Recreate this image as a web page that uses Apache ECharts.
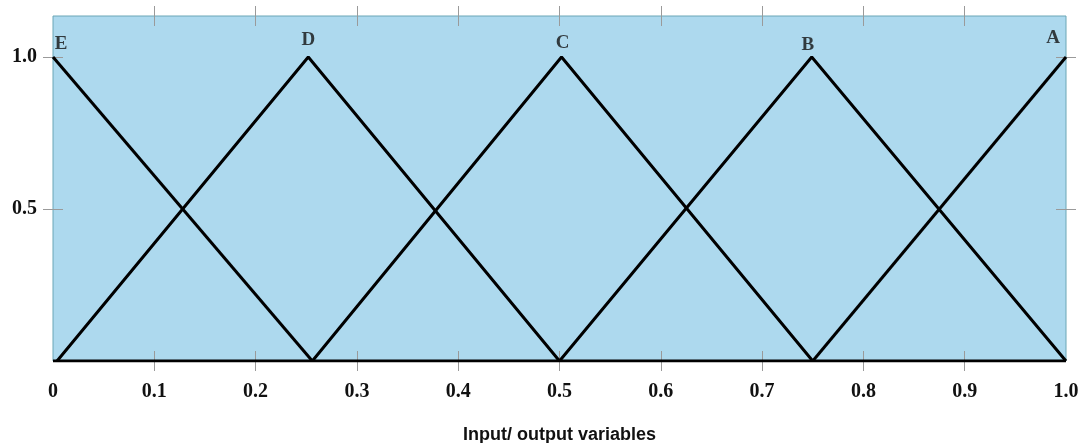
<!DOCTYPE html>
<html>
<head>
<meta charset="utf-8">
<script src="https://cdn.jsdelivr.net/npm/echarts@6/dist/echarts.min.js"></script>
<style>html,body{margin:0;padding:0;background:#fff;}#c{width:1083px;height:443px;}</style>
</head>
<body>
<div id="c"></div>
<script>
// Membership functions (x, membership)
const seriesE = [[0, 1], [0.256, 0]];
const seriesD = [[0.004, 0], [0.252, 1], [0.5, 0]];
const seriesC = [[0.256, 0], [0.502, 1], [0.75, 0]];
const seriesB = [[0.5, 0], [0.749, 1], [1.0, 0]];
const seriesA = [[0.75, 0], [1.0, 1]];
const baseline = [[0, 0], [1, 0]];
const peakLabels = ['E', 'D', 'C', 'B', 'A'];
const xTickValues = [0.1, 0.2, 0.3, 0.4, 0.5, 0.6, 0.7, 0.8, 0.9];
const xLabelValues = [0, 0.1, 0.2, 0.3, 0.4, 0.5, 0.6, 0.7, 0.8, 0.9, 1.0];
const yTickValues = [0.5, 1.0];
const xName = 'Input/ output variables';

const chart = echarts.init(document.getElementById('c'));
const serif = '"Liberation Serif", "Times New Roman", serif';
const tickStyle = { color: '#9a9a9a', width: 1 };

function xAxisDef(pos, inside, labels, extra) {
  return Object.assign({
    type: 'value', position: pos, min: 0, max: 1, interval: 0.1,
    axisLine: { show: false, onZero: false },
    splitLine: { show: false },
    axisTick: { show: true, inside: inside, length: 10, customValues: xTickValues, lineStyle: tickStyle },
    axisLabel: labels ? {
      show: true, customValues: xLabelValues, margin: 21,
      fontFamily: serif, fontWeight: 'bold', fontSize: 20, color: '#111',
      formatter: v => v === 0 ? '0' : v.toFixed(1)
    } : { show: false }
  }, extra || {});
}
function yAxisDef(pos, inside, labels) {
  return {
    type: 'value', position: pos, min: 0, max: 1.135, interval: 0.5,
    axisLine: { show: false, onZero: false },
    splitLine: { show: false },
    axisTick: { show: true, inside: inside, length: 10, customValues: yTickValues, lineStyle: tickStyle },
    axisLabel: labels ? {
      show: true, customValues: yTickValues, margin: 16,
      fontFamily: serif, fontWeight: 'bold', fontSize: 20, color: '#111',
      formatter: v => v.toFixed(1)
    } : { show: false }
  };
}

function lineSeries(data) {
  return {
    type: 'line', data: data, xAxisIndex: 0, yAxisIndex: 0,
    symbol: 'none', animation: false,
    lineStyle: { color: '#000', width: 3 }, z: 3
  };
}

const labelOffsets = [[8, 0, 3], [0, 0, 7], [1, 0, 4], [-4, 0, 2], [-13, 0, 9]];
const peaks = [seriesE[0], seriesD[1], seriesC[1], seriesB[1], seriesA[1]];

const option = {
  backgroundColor: '#fff',
  animation: false,
  grid: {
    left: 53, right: 17, top: 16, bottom: 82,
    outerBoundsMode: 'none', containLabel: false,
    show: true, backgroundColor: '#add9ee', borderColor: '#6aa6b6', borderWidth: 1
  },
  xAxis: [
    xAxisDef('bottom', false, true, {
      name: xName, nameLocation: 'middle', nameGap: 65,
      nameTextStyle: { fontFamily: '"Liberation Sans", Arial, sans-serif', fontWeight: 'bold', fontSize: 18, color: '#111' }
    }),
    xAxisDef('bottom', true, false),
    xAxisDef('top', false, false),
    xAxisDef('top', true, false)
  ],
  yAxis: [
    yAxisDef('left', false, true),
    yAxisDef('left', true, false),
    yAxisDef('right', false, false),
    yAxisDef('right', true, false)
  ],
  series: [
    lineSeries(baseline),
    lineSeries(seriesE),
    lineSeries(seriesD),
    lineSeries(seriesC),
    lineSeries(seriesB),
    lineSeries(seriesA),
    {
      type: 'scatter', xAxisIndex: 0, yAxisIndex: 0, symbolSize: 0, z: 4,
      data: peaks.map((p, i) => ({
        value: p,
        label: {
          show: true, position: 'top', formatter: peakLabels[i],
          offset: [labelOffsets[i][0], labelOffsets[i][1]], distance: labelOffsets[i][2],
          fontFamily: serif, fontWeight: 'bold', fontSize: 19, color: '#111'
        }
      }))
    }
  ]
};
chart.setOption(option);
</script>
</body>
</html>
